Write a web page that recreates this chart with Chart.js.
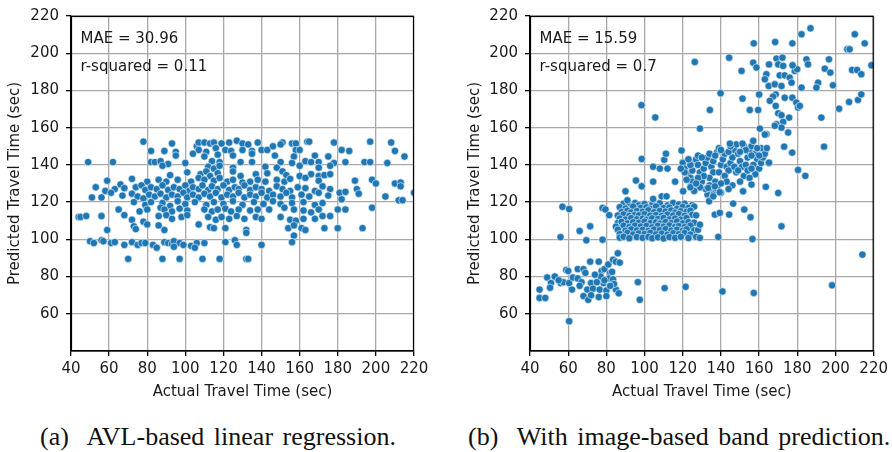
<!DOCTYPE html>
<html>
<head>
<meta charset="utf-8">
<script src="https://cdn.jsdelivr.net/npm/chart.js@4.4.1/dist/chart.umd.min.js"></script>
<style>
  body { margin: 0; background: #fff; width: 892px; height: 452px; overflow: hidden; position: relative; }
  canvas { position: absolute; top: 0; }
  #chartA { left: 0; }
  #chartB { left: 446px; }
  .caption { position: absolute; top: 421px; font-family: "Liberation Serif", serif; font-size: 26px; line-height: 32px; word-spacing: 3px; color: #111; white-space: pre; }
</style>
</head>
<body>
<canvas id="chartA" width="446" height="410"></canvas>
<canvas id="chartB" width="446" height="410"></canvas>
<div class="caption" id="capA" style="left:40px">(a)  AVL-based linear regression.</div>
<div class="caption" id="capB" style="left:468px">(b)  With image-based band prediction.</div>
<script>
// axis settings
const xTitle = 'Actual Travel Time (sec)';
const yTitle = 'Predicted Travel Time (sec)';
const axisMin = 40;
const axisMax = 220;
const axisStep = 20;
const maeLabels = ['MAE = 30.96', 'MAE = 15.59'];
const r2Labels = ['r-squared = 0.11', 'r-squared = 0.7'];

// (a) AVL-based linear regression: [actual, predicted]
const avlPoints = [
    [78,152.5],[93,151.5],[106,150],[107,152],[110,152],[113,151.5],[115,152],[119,151.5],[123,152],[127,153],[130,151.5],[133,151],[138,152],[151,152],[156,151.5],[158,151.5],[164,152.5],[165,152.5],[178,152],[197,152.5],[208,152],
    [82,147.5],[89,147.5],[95,147],[107,148],[111,147],[116,149],[121,148],[124,147.5],[130,148],[135,147.5],[140,148],[143,148],[146,150],[150,151],[158,148],[160,148],[182,148],[186,147.5],[210,147.5],
    [95,145],[104,146],[110,144.5],[117,145.5],[125,145],[135,146],[147,145],[157,144.5],[168,145],[175,144.5],[215,144.5],
    [49,141.5],[62,141.5],[82,141.5],[84,141.5],[87,142],[91,140.5],[100,141],[114,142],[118,141.5],[129,141.5],[135,141.5],[150,141.5],[156,141],[163,142],[166,141.5],[170,141.5],[178,141],[184,141.5],[194,141.5],[197,141.5],
    [88,139.5],[112,139],[115,138],[118,139.5],[125,138.5],[142,139],[148,138.5],[160,139.5],[170,138.5],[176,139.5],[206,141],
    [92,134.5],[101,136],[108,135],[111,136.5],[113,134],[117,135.5],[125,136.5],[129,134],[137,135],[143,135.5],[151,136.5],[153,134.5],[160,134],[166,135],[170,134],[173,134.5],[176,135],
    [59,131.5],[72,132.5],[80,131],[86,132],[90,131],[96,132],[103,131],[107,133],[110,132],[115,131.5],[118,133],[122,131],[125,132],[130,130.5],[134,131],[138,132],[142,131],[148,132],[152,131],[155,132.5],[163,133],[170,131.5],[189,131.5],[198,132],
    [53,128],[58,126],[63,127],[66,129.5],[68,127.5],[74,128],[77,129],[79,126.5],[82,128],[85,127],[88,129],[91,126.5],[94,128],[97,127],[100,129],[102,126],[104,128],[107,127],[109,129],[112,126.5],[114,128.5],[117,127],[120,129],[123,126.5],[126,128],[128,127],[131,129],[134,126.5],[137,128],[140,127],[144,126],[148,128.5],[151,127],[155,126],[159,128],[163,127.5],[168,126],[172,128.5],[176,127],[190,127],[200,130],[210,130],[213,130.5],
    [51,122.5],[56,122.5],[61,125],[67,123.5],[72,124.5],[75,123],[78,122],[81,124],[84,123],[87,124.5],[90,122.5],[93,124],[96,123],[99,125],[101,122.5],[104,124],[107,122.5],[110,124.5],[113,123],[116,125],[119,122.5],[122,124],[125,123],[128,125],[131,122.5],[134,124],[137,123],[140,125],[143,122.5],[146,124],[150,123],[153,125],[156,122.5],[161,124],[165,123],[170,125],[175,123.5],[181,125],[184,125.5],[191,124.5],[205,123],[213,128.5],[220,125],
    [73,120],[79,118.5],[82,120],[88,119.5],[92,118],[96,120.5],[100,119],[105,120],[111,118.5],[115,120],[120,119],[125,120.5],[130,118.5],[136,120],[141,119],[146,120.5],[150,119],[156,119.5],[162,120],[168,118.5],[172,119.5],[182,121.5],[212,121],[214,121],
    [65,116],[76,115],[80,116],[87,117],[89,116],[93,115],[97,116.5],[101,115.5],[110,116],[114,115],[117,116],[121,116.5],[124,115],[128,116],[134,115.5],[138,116],[144,116],[152,117],[157,116],[162,115.5],[166,114.5],[170,116],[180,116],[184,116],[198,117],
    [44,112],[45,112],[48,112.5],[56,112.5],[68,113],[72,110.5],[78,109.5],[86,112.5],[90,113],[93,111],[98,112],[101,113],[112,112],[116,110.5],[119,112],[123,111],[127,112.5],[131,111],[137,112],[140,111],[150,112],[155,110.5],[158,110],[162,111],[168,111],[172,112.5],[176,112.5],
    [59,105],[73,107],[74,105.5],[80,108],[86,107.5],[89,105],[107,108],[113,106.5],[115,106],[121,106],[132,105],[154,106],[157,107.5],[161,106],[163,105],[173,106],[180,106],[193,106],
    [132,103.5],[157,102],
    [50,99],[52,98],[56,99.5],[57,99],[61,98],[63,98.5],[68,97],[72,98.5],[75,97],[77,98],[79,98],[83,97],[89,98.5],[91,98],[93,97.5],[94,99],[97,98],[99,97],[103,96.5],[106,98],[110,98],[121,98.5],[126,99.5],[127,97],[140,97],[156,98.5],
    [85,95.5],[94,96],[105,95.5],
    [70,89.5],[88,89.5],[97,89.5],[109,89.5],[118,89.5],[132,89.5],[133,89.5]
];

// (b) with image-based band prediction: lower-left group
const bandLow = [
    [45,73],[45,68.5],[48,68.5],[49,79.5],[53,80],[51,76.5],[50.5,74],[56,76.5],[57.5,77],[59,83.5],[60.5,76.5],[62,73],[62.5,79.5],[65,84],[68,84],[69,82],[65,79],[67,77],[71.5,88],[76,88],[70,73],[68,69.5],[70.5,67.5],[72,76.5],[73,73.5],[76,69],[76.5,73],[77.5,83],[79,84],[77,80],[81,86.5],[82,82],[81.5,79],[83.5,89],[85,88],[87,87.5],[86,92.5],[78.5,76.5],[80,72.5],[80,69.5],[83,82.5],[83.5,78.5],[85,73],[86.5,71],[60,83],[75,77],[74,81],[79,78],[84,76],[66,75],[72,70],[55,78],[82,75],
    [60.5,56],[96.5,77],[97.5,67.5],[110.5,73.8],[121.5,74.5],
    [57,117.5],[60.5,116.3],[56,101.2],[66,104.5],[71.5,107],[69.5,99.5],[78,116.8],[79.5,116],[81.5,113],[78,99.8]
];

// 100-120 group
const bandMid = [
    [89,119.2],[92,118.6],[95,119.5],[97,118.3],[100,119],[104,118.7],[108,119.4],[112,118.2],[115,119.6],[118,118.8],[121,119.1],[125,118.4],
    [87,117.3],[90,116.6],[94,117.6],[98,116.9],[101,117.2],[103,116.4],[106,117.7],[110,116.8],[113,117.1],[117,116.5],[120,117.4],[123,116.9],[126,117.6],
    [88,114.7],[91,115.4],[93,114.5],[96,115.2],[99,114.8],[102,115.6],[105,114.6],[108,115.3],[111,114.9],[114,115.5],[116,114.4],[119,115.1],[122,114.8],[124,115.4],
    [86,112.8],[89,113.4],[92,112.6],[95,113.2],[97,112.9],[100,113.5],[103,112.7],[106,113.1],[109,112.5],[112,113.3],[115,112.8],[118,113.6],[121,112.6],[125,113.2],[127,112.9],
    [87,111.2],[90,110.6],[93,111.4],[96,110.8],[99,111.1],[101,110.5],[104,111.3],[107,110.9],[110,111.5],[113,110.7],[116,111.2],[119,110.6],[122,111.4],
    [86,108.8],[88,109.4],[91,108.6],[94,109.2],[97,108.9],[100,109.5],[103,108.7],[106,109.1],[108,108.5],[111,109.3],[114,108.8],[117,109.6],[120,108.6],[123,109.2],[126,108.9],
    [85,106.8],[89,107.3],[92,106.6],[95,107.4],[98,106.9],[101,107.2],[104,106.5],[107,107.3],[110,106.8],[113,107.5],[116,106.7],[118,107.1],[121,106.6],[124,107.4],
    [86,105.2],[90,104.6],[93,105.4],[96,104.8],[99,105.1],[102,104.5],[105,105.3],[108,104.9],[111,105.5],[114,104.7],[117,105.2],[120,104.6],[122,105.4],[126,104.8],[128,105.1],
    [87,102.8],[91,103.4],[94,102.6],[97,103.2],[100,102.9],[103,103.5],[106,102.7],[109,103.1],[112,102.5],[115,103.3],[118,102.8],[121,103.4],[124,102.6],
    [87,100.9],[89,101.4],[92,100.6],[96,101.2],[99,100.8],[102,101.3],[104,100.6],[107,101.1],[110,100.5],[113,101.2],[116,100.8],[119,101.4],[123,100.7],[127,101.3],
    [90,125.8],[91,121],[98.5,128.5],[95.5,131.6],[98.5,143.2],[104.5,139],[104.5,131],[110.3,142.7],[111.2,146],[119.4,147.7],[120,141.4],[98.4,172.1],[105.6,165.5],[104.5,121.7],[109,123.1],[111.5,123.1],[120.2,125.8],[124.6,129.4],[108,138],[112,138],[116,131]
];

// 120-160 group
const bandHigh = [
    [120,141],[121,138],[123,135],[124,133],[125,137],[126,141],[127,143],[128,140],[129,136],[125,131],[127,128],[122,132],[130,131],[131,138],[132,141],[133,144],[134,146],[135,139],[136,136],[134,133],[137,131],[138,128],[135,126],[133,124],[139,136],[140,140],[141,143],[138,147],[139,149],[142,146],[143,139],[144,137],[142,134],[145,141],[146,144],[147,148],[148,151],[149,146],[150,142],[151,139],[148,136],[152,134],[153,140],[154,144],[155,147],[156,150],[157,153],[158,146],[159,143],[157,140],[160,138],[161,141],[162,144],[163,146],[161,149],[164,149],[165,141],[158,135],[155,133],[150,131],[146,129],[143,131],[140,130],[137,125],[132,127],[129,128],[126,126],[124,128],[121,136],[119,138],[124,140],[123,143],[128,145],[130,144],[136,142],[137,145],[144,147],[145,150],[140,148],[152,150],[153,148],[150,147],[156,145],[159,149],[160,145],[147,139],[149,137],[154,137],[156,138],[131,134],[128,133],[127,130],[144,127],[134,129],[140,125],[134,121],[136,124],
    [133.3,127.6],[136.8,128.5],[139.4,125.3],[133.8,120.5],[136,123.1],[151.6,125.8],[156,129.4],[163.5,128.2],[170,124.9],[146.4,119.2],[152.2,116],[155.5,111.9],[136.8,113.3],[139.4,114.2],[144.3,113.3],[171.7,107],[138.6,101.3],[156.5,100.2],[129,107.9],[129,100.8],[214.1,91.8],[198.2,75.3],[140.8,72],[157.2,71.2]
];

// upper group (above 145)
const bandTop = [
    [186.9,213.4],[182.2,210.2],[210.1,210.2],[215.3,205.3],[206.2,202.1],[207.4,202.1],[157.2,205.3],[168.4,206],[177.4,205.3],[144.3,197.6],[150.8,190.5],[156.9,194.9],[158.6,192.3],[163.8,188.7],[165.2,194],[163,186],[169.1,197.1],[172.2,197.6],[170,194],[172.6,193.2],[170.8,188.1],[173.4,188.1],[176,186.9],[177,184.2],[178.7,190.5],[179.9,191.4],[177.5,193.5],[165,182.4],[168.2,183.3],[171.7,182.4],[168.7,177.9],[167.3,176.7],[165.6,174.4],[173.4,176.1],[177.4,176.1],[179.5,173.5],[180.4,170.8],[181.3,171.7],[168.7,171.7],[170,167.7],[171.7,166.7],[175.7,165.4],[172.6,163.1],[169.1,161.8],[171.7,160],[168.2,161],[175.2,157.4],[160.4,159.5],[163.8,156.5],[184.8,196.7],[185.6,194],[182.2,181.5],[190.9,184.2],[190,181.5],[194.4,191.7],[197.3,189.6],[196.6,196.7],[198.7,182.8],[208.7,191],[211.3,191],[213.5,188.7],[218.8,193.5],[207.1,173.8],[211.8,174.9],[213.5,177.9],[201.9,170.2],[192.6,165.4],[194,149.8],[177.3,146.6],[173.1,149.8],[184.2,134.1],[180.4,137.3],[134.2,169.5],[151.3,175.6],[155.1,169.5],[159.5,169.5],[139.8,178.5],[160,177.8],[129,159.5],[144.7,151.4],[151.3,151.4],[156.9,152.9],[163,156.3],[165.2,141.2],[126.3,195.3]
];

const bandPoints = bandLow.concat(bandMid, bandHigh, bandTop);

// draws the top/right spines and the MAE / r-squared text
const framePlugin = {
    id: 'frame',
    afterDraw(chart, args, opts) {
        const { ctx, chartArea } = chart;
        ctx.save();
        ctx.strokeStyle = '#000';
        ctx.lineWidth = 1.2;
        ctx.strokeRect(chartArea.left + 0.5, chartArea.top + 0.5, chartArea.right - chartArea.left - 1, chartArea.bottom - chartArea.top - 0.5);
        ctx.fillStyle = '#1a1a1a';
        ctx.font = '15px "DejaVu Sans"';
        ctx.textBaseline = 'middle';
        ctx.fillText(opts.mae, chartArea.left + 9.5, chartArea.top + 23);
        ctx.fillText(opts.r2, chartArea.left + 9.5, chartArea.top + 51);
        ctx.restore();
    },
};

function makeChart(id, points, padLeft, padRight, yWidth, mae, r2) {
    const ctx = document.getElementById(id).getContext('2d');
    const axisFont = { family: 'DejaVu Sans', size: 15 };
    return new Chart(ctx, {
        type: 'scatter',
        data: {
            datasets: [{
                data: points.map(p => ({ x: p[0], y: p[1] })),
                backgroundColor: '#1f77b4',
                borderColor: 'rgba(255,255,255,0.8)',
                borderWidth: 0.7,
                pointRadius: 3.7,
                pointHoverRadius: 3.7,
                clip: 0,
            }],
        },
        options: {
            responsive: false,
            animation: false,
            events: [],
            layout: { padding: { left: padLeft, right: padRight, top: 16, bottom: 0 } },
            scales: {
                x: {
                    type: 'linear',
                    min: axisMin,
                    max: axisMax,
                    afterFit: (scale) => { scale.height = 59; },
                    ticks: { stepSize: axisStep, color: '#1a1a1a', font: axisFont, padding: 4, maxRotation: 0, autoSkip: false },
                    grid: { color: '#a9a9a9', lineWidth: 1.3, tickLength: 5, tickColor: '#000' },
                    border: { display: true, color: '#000', width: 1.2 },
                    title: { display: true, text: xTitle, color: '#1a1a1a', font: axisFont, padding: { top: 0, bottom: 9 } },
                },
                y: {
                    type: 'linear',
                    min: axisMin,
                    max: axisMax,
                    afterFit: (scale) => { scale.width = yWidth; },
                    ticks: {
                        stepSize: axisStep, color: '#1a1a1a', font: axisFont, padding: 7,
                        callback: (v) => (v === axisMin ? null : v),
                    },
                    grid: { color: '#a9a9a9', lineWidth: 1.3, tickLength: 5, tickColor: '#000' },
                    border: { display: true, color: '#000', width: 1.2 },
                    title: { display: true, text: yTitle, color: '#1a1a1a', font: axisFont, padding: { top: 6.5, bottom: 0 } },
                },
            },
            plugins: {
                legend: { display: false },
                tooltip: { enabled: false },
                frame: { mae: mae, r2: r2 },
            },
        },
        plugins: [framePlugin],
    });
}

makeChart('chartA', avlPoints, 0, 32, 71, maeLabels[0], r2Labels[0]);
makeChart('chartB', bandPoints, 14, 18, 70, maeLabels[1], r2Labels[1]);
</script>
</body>
</html>
